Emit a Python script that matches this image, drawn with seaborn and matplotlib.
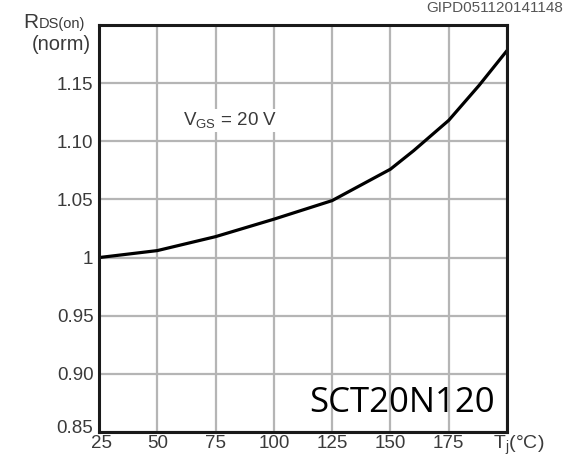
import matplotlib
matplotlib.use("Agg")
import matplotlib.pyplot as plt
import matplotlib.transforms as mtransforms
import seaborn as sns
import pandas as pd

# Data
temps = [25, 50, 75, 100, 125, 150, 160, 175, 188, 200]
rds_norm = [1.000, 1.006, 1.018, 1.033, 1.049, 1.076, 1.092, 1.118, 1.148, 1.178]
x_ticks = [25, 50, 75, 100, 125, 150, 175, 200]
x_tick_labels = ["25", "50", "75", "100", "125", "150", "175", ""]
y_ticks = [0.85, 0.90, 0.95, 1.00, 1.05, 1.10, 1.15, 1.20]
y_tick_labels = ["0.85", "0.90", "0.95", "1", "1.05", "1.10", "1.15", ""]

sns.set_style("white")
plt.rcParams["font.family"] = ["Liberation Sans", "DejaVu Sans"]

TXT = "#3a3a3a"
fig = plt.figure(figsize=(5.63, 4.58), dpi=100)
ax = fig.add_axes([99 / 563, 1 - 432 / 458, (507 - 99) / 563, (432 - 25) / 458])

df = pd.DataFrame({"T": temps, "R": rds_norm})
sns.lineplot(data=df, x="T", y="R", ax=ax, color="black", linewidth=2.3, zorder=5)

ax.set_xlim(25, 200)
ax.set_ylim(0.85, 1.20)
ax.set_xticks(x_ticks)
ax.set_xticklabels(x_tick_labels)
ax.set_yticks(y_ticks)
ax.set_yticklabels(y_tick_labels)
ax.set_xlabel("")
ax.set_ylabel("")
ax.grid(True, color="#b5b5b5", linewidth=1.6)
ax.tick_params(axis="both", length=0, labelsize=13.5, labelcolor=TXT)
ax.tick_params(axis="y", pad=4)
ax.tick_params(axis="x", pad=2)
for s in ax.spines.values():
    s.set_color("#1a1a1a")
    s.set_linewidth(2.2)
    s.set_zorder(6)

# nudge the corner labels apart as in the reference
fig.canvas.draw()
ylab0 = ax.get_yticklabels()[0]
ylab0.set_transform(ylab0.get_transform() + mtransforms.ScaledTranslation(0, 5 / 100, fig.dpi_scale_trans))
xlab0 = ax.get_xticklabels()[0]
xlab0.set_transform(xlab0.get_transform() + mtransforms.ScaledTranslation(3 / 100, 0, fig.dpi_scale_trans))

# Annotations
ax.text(0.32, 0.765, r"V$_{\mathregular{GS}}$ = 20 V", transform=ax.transAxes,
        fontsize=13.5, color=TXT, ha="center", va="center",
        bbox=dict(facecolor="white", edgecolor="none", pad=1), zorder=4)
ax.text(0.97, 0.05, "SCT20N120", transform=ax.transAxes, fontsize=25,
        family=["Open Sans", "DejaVu Sans"], color="black", ha="right",
        va="baseline", zorder=7)

# Axis titles
fig.text(23 / 563, 1 - 28 / 458, "R", fontsize=15, color=TXT, ha="left", va="baseline")
fig.text(39 / 563, 1 - 28 / 458, "DS(on)", fontsize=10.5, color=TXT, ha="left", va="baseline")
fig.text(91 / 563, 1 - 45 / 458, "(norm)", fontsize=14.5, color=TXT, ha="right", va="center")
fig.text(519 / 563, 1 - 445 / 458, r"T$_{\mathregular{j}}$(°C)", fontsize=14, color=TXT,
         ha="center", va="center")
fig.text(1.0, 1 - 8 / 458, "GIPD051120141148", fontsize=11, color="#555555",
         ha="right", va="center")

fig.savefig("out.png", dpi=100)
